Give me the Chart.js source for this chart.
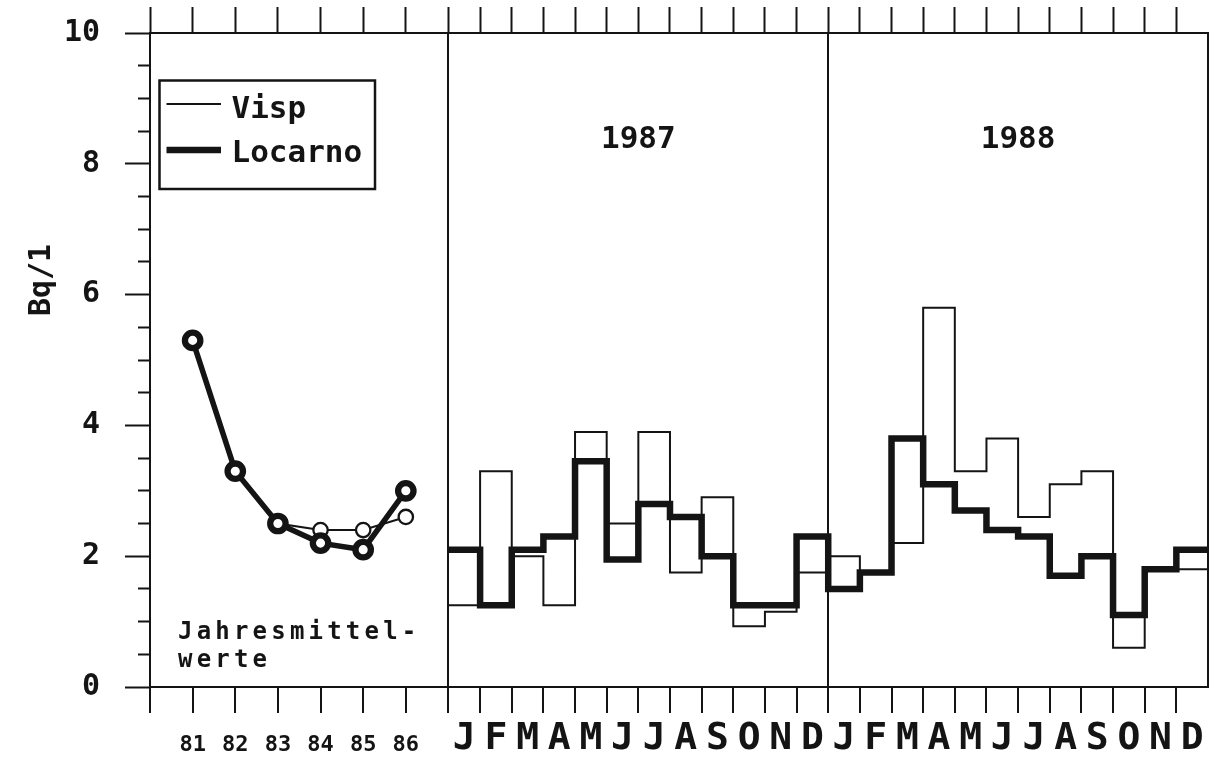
<!DOCTYPE html>
<html>
<head>
<meta charset="utf-8">
<script src="https://cdn.jsdelivr.net/npm/chart.js@4/dist/chart.umd.min.js"></script>
<style>
  html, body { margin: 0; padding: 0; background: #fff; }
  #wrap { position: relative; width: 1209px; height: 762px; }
  canvas { display: block; }
</style>
</head>
<body>
<div id="wrap"><canvas id="c" width="1209" height="762"></canvas></div>
<script>
// ---- data -------------------------------------------------------------
// annual means 1981-1986 (Bq/l)
const yearLabels = ['81', '82', '83', '84', '85', '86'];
const vispAnnual = [5.3, 3.3, 2.5, 2.4, 2.4, 2.6];
const locarnoAnnual = [5.3, 3.3, 2.5, 2.2, 2.1, 3.0];

// monthly values, January 1987 to December 1988
const monthLabels = ['J', 'F', 'M', 'A', 'M', 'J', 'J', 'A', 'S', 'O', 'N', 'D'];
const periodLabels = ['1987', '1988'];
const vispMonthly = [
  1.25, 3.3, 2.0, 1.25, 3.9, 2.5, 3.9, 1.75, 2.9, 0.93, 1.15, 1.75,
  2.0, 1.75, 2.2, 5.8, 3.3, 3.8, 2.6, 3.1, 3.3, 0.6, 1.8, 1.8
];
const locarnoMonthly = [
  2.1, 1.25, 2.1, 2.3, 3.45, 1.95, 2.8, 2.6, 2.0, 1.25, 1.25, 2.3,
  1.5, 1.75, 3.8, 3.1, 2.7, 2.4, 2.3, 1.7, 2.0, 1.1, 1.8, 2.1
];

const yMajorTicks = [0, 2, 4, 6, 8, 10];
const seriesNames = ['Visp', 'Locarno'];
const yTitle = 'Bq/1';
const noteLines = ['Jahresmittel-', 'werte'];

// ---- layout helpers ---------------------------------------------------
const INK = '#141414';
const MONO = "'DejaVu Sans Mono', 'Liberation Mono', monospace";

// annual means sit one slot apart; a month is narrower than a slot
const ANNUAL_SLOTS = yearLabels.length + 1;
const MONTH_W = 0.7423;
const monthX = k => ANNUAL_SLOTS + k * MONTH_W;
const nMonths = vispMonthly.length;
const X_MAX = monthX(nMonths);

// tick marks on the boundaries of every slot and month
const tickMarks = [];
for (let i = 0; i <= ANNUAL_SLOTS; i++) tickMarks.push(i);
for (let k = 1; k < nMonths; k++) tickMarks.push(monthX(k));

// full-height separators in front of each year block
const separators = periodLabels.map((_, p) => monthX(p * monthLabels.length));
const isSeparator = v => separators.some(s => Math.abs(s - v) < 1e-6);

// category labels: years under the points, months centred in their interval
const allMonthLabels = periodLabels.flatMap(() => monthLabels);
const labelPos = yearLabels.map((_, i) => i + 1)
  .concat(allMonthLabels.map((_, k) => monthX(k + 0.5)));
const labelText = yearLabels.concat(allMonthLabels);

const annualPoints = vals => vals.map((v, i) => ({ x: i + 1, y: v }));
// each monthly value holds from the start of its month to the next one
const stepPoints = vals => vals.map((v, k) => ({ x: monthX(k), y: v }))
  .concat([{ x: monthX(vals.length), y: vals[vals.length - 1] }]);

const setTicks = values => scale => { scale.ticks = values.map(v => ({ value: v })); };

// ---- captions, axis unit and legend box --------------------------------
const annotations = {
  id: 'annotations',
  afterDraw(chart) {
    const { ctx, chartArea: a, scales } = chart;
    const xs = scales.x;
    const dsByLabel = name => chart.data.datasets.find(d => d.label === name && d.stepped);
    ctx.save();
    ctx.fillStyle = INK;
    ctx.strokeStyle = INK;

    // unit of the value axis, reading upwards
    ctx.save();
    ctx.font = `bold 30px ${MONO}`;
    ctx.textAlign = 'center';
    ctx.textBaseline = 'middle';
    ctx.translate(a.left - 108, a.top + 247);
    ctx.rotate(-Math.PI / 2);
    ctx.fillText(yTitle, 0, 0);
    ctx.restore();

    // year captions above each monthly block
    ctx.font = `bold 31px ${MONO}`;
    ctx.textAlign = 'center';
    ctx.textBaseline = 'middle';
    periodLabels.forEach((p, i) => {
      const cx = xs.getPixelForValue(monthX(i * monthLabels.length + monthLabels.length / 2));
      ctx.fillText(p, cx, a.top + 107);
    });

    // caption of the annual means
    ctx.font = `bold 24px ${MONO}`;
    ctx.textAlign = 'left';
    ctx.textBaseline = 'alphabetic';
    ctx.letterSpacing = '4.2px';
    noteLines.forEach((t, i) => ctx.fillText(t, a.left + 28, a.top + 606 + i * 28));
    ctx.letterSpacing = '0px';

    // legend
    const bx = a.left + 9.5, by = a.top + 47.5, bw = 215.5, bh = 108.5;
    ctx.fillStyle = '#fff';
    ctx.fillRect(bx, by, bw, bh);
    ctx.lineWidth = 2.5;
    ctx.strokeRect(bx, by, bw, bh);
    ctx.fillStyle = INK;
    ctx.font = `bold 31px ${MONO}`;
    ctx.textAlign = 'left';
    ctx.textBaseline = 'alphabetic';
    const rows = [
      { name: seriesNames[0], y: a.top + 71, base: a.top + 85 },
      { name: seriesNames[1], y: a.top + 117, base: a.top + 128.7 }
    ];
    rows.forEach(r => {
      const ds = dsByLabel(r.name);
      ctx.lineWidth = ds.borderWidth;
      ctx.lineCap = 'butt';
      ctx.beginPath();
      ctx.moveTo(a.left + 16.5, r.y);
      ctx.lineTo(a.left + 71, r.y);
      ctx.stroke();
      ctx.fillText(r.name, a.left + 81.5, r.base);
    });
    ctx.restore();
  }
};

// ---- chart -------------------------------------------------------------
const lineBase = {
  xAxisID: 'x', yAxisID: 'y',
  borderColor: INK,
  backgroundColor: INK,
  fill: false,
  tension: 0,
  borderJoinStyle: 'miter',
  borderCapStyle: 'butt'
};

new Chart(document.getElementById('c'), {
  type: 'line',
  data: {
    datasets: [
      Object.assign({}, lineBase, {
        label: seriesNames[1],
        data: annualPoints(locarnoAnnual),
        borderWidth: 5.5,
        pointRadius: 7.7,
        pointBorderWidth: 6.3,
        pointBackgroundColor: '#fff',
        pointBorderColor: INK
      }),
      Object.assign({}, lineBase, {
        label: seriesNames[0],
        data: annualPoints(vispAnnual),
        borderWidth: 2,
        pointRadius: 7.2,
        pointBorderWidth: 2.3,
        pointBackgroundColor: '#fff',
        pointBorderColor: INK
      }),
      Object.assign({}, lineBase, {
        label: seriesNames[1],
        data: stepPoints(locarnoMonthly),
        stepped: 'before',
        borderWidth: 6.5,
        pointRadius: 0
      }),
      Object.assign({}, lineBase, {
        label: seriesNames[0],
        data: stepPoints(vispMonthly),
        stepped: 'before',
        borderWidth: 2,
        pointRadius: 0
      })
    ]
  },
  options: {
    responsive: false,
    devicePixelRatio: 1,
    animation: false,
    events: [],
    layout: { padding: { top: 0, left: 0, right: 1, bottom: 0 }, autoPadding: false },
    plugins: { legend: { display: false }, tooltip: { enabled: false } },
    scales: {
      x: {
        type: 'linear', position: 'bottom', min: 0, max: X_MAX,
        afterBuildTicks: setTicks(tickMarks),
        ticks: { display: false, autoSkip: false },
        grid: {
          drawOnChartArea: true,
          color: c => (c.tick && isSeparator(c.tick.value)) ? INK : 'rgba(0,0,0,0)',
          lineWidth: 2,
          tickLength: 26, tickWidth: 2, tickColor: INK
        },
        border: { display: true, color: INK, width: 2 },
        afterFit: s => { s.height = 26; }
      },
      xl: {
        type: 'linear', position: 'bottom', min: 0, max: X_MAX,
        afterBuildTicks: setTicks(labelPos),
        ticks: {
          autoSkip: false, maxRotation: 0, minRotation: 0, padding: 0, color: INK,
          callback: (v, i) => labelText[i],
          font: c => (c.index !== undefined && c.index < yearLabels.length)
            ? { family: MONO, size: 22, weight: 'bold', lineHeight: '64px' }
            : { family: MONO, size: 38, weight: 'bold', lineHeight: '52px' }
        },
        grid: { display: false, drawTicks: false },
        border: { display: false },
        afterFit: s => { s.height = 49; s.paddingLeft = 0; s.paddingRight = 0; }
      },
      xt: {
        type: 'linear', position: 'top', min: 0, max: X_MAX,
        afterBuildTicks: setTicks(tickMarks),
        ticks: { display: false, autoSkip: false },
        grid: { drawOnChartArea: false, tickLength: 26, tickWidth: 2, tickColor: INK },
        border: { display: true, color: INK, width: 2 },
        afterFit: s => { s.height = 33; }
      },
      y: {
        type: 'linear', position: 'left', min: 0, max: 10,
        ticks: {
          stepSize: 0.5, autoSkip: false, padding: 25, color: INK,
          font: { family: MONO, size: 30, weight: 'bold' },
          callback: v => yMajorTicks.includes(v) ? String(v) : ''
        },
        grid: {
          drawOnChartArea: false,
          tickLength: 25, tickWidth: 2, tickColor: INK,
          // minor ticks only show their inner half
          tickBorderDash: c => (c.tick && yMajorTicks.includes(c.tick.value)) ? [] : [0, 13, 30]
        },
        border: { display: true, color: INK, width: 2 },
        // labels at the ends fit inside the axis strips above and below
        afterFit: s => { s.width = 150; s.paddingTop = 0; s.paddingBottom = 0; }
      },
      yr: {
        type: 'linear', position: 'right', min: 0, max: 10,
        ticks: { display: false },
        grid: { display: false, drawTicks: false },
        border: { display: true, color: INK, width: 2 },
        afterFit: s => { s.width = 0; }
      }
    }
  },
  plugins: [annotations]
});
</script>
</body>
</html>
